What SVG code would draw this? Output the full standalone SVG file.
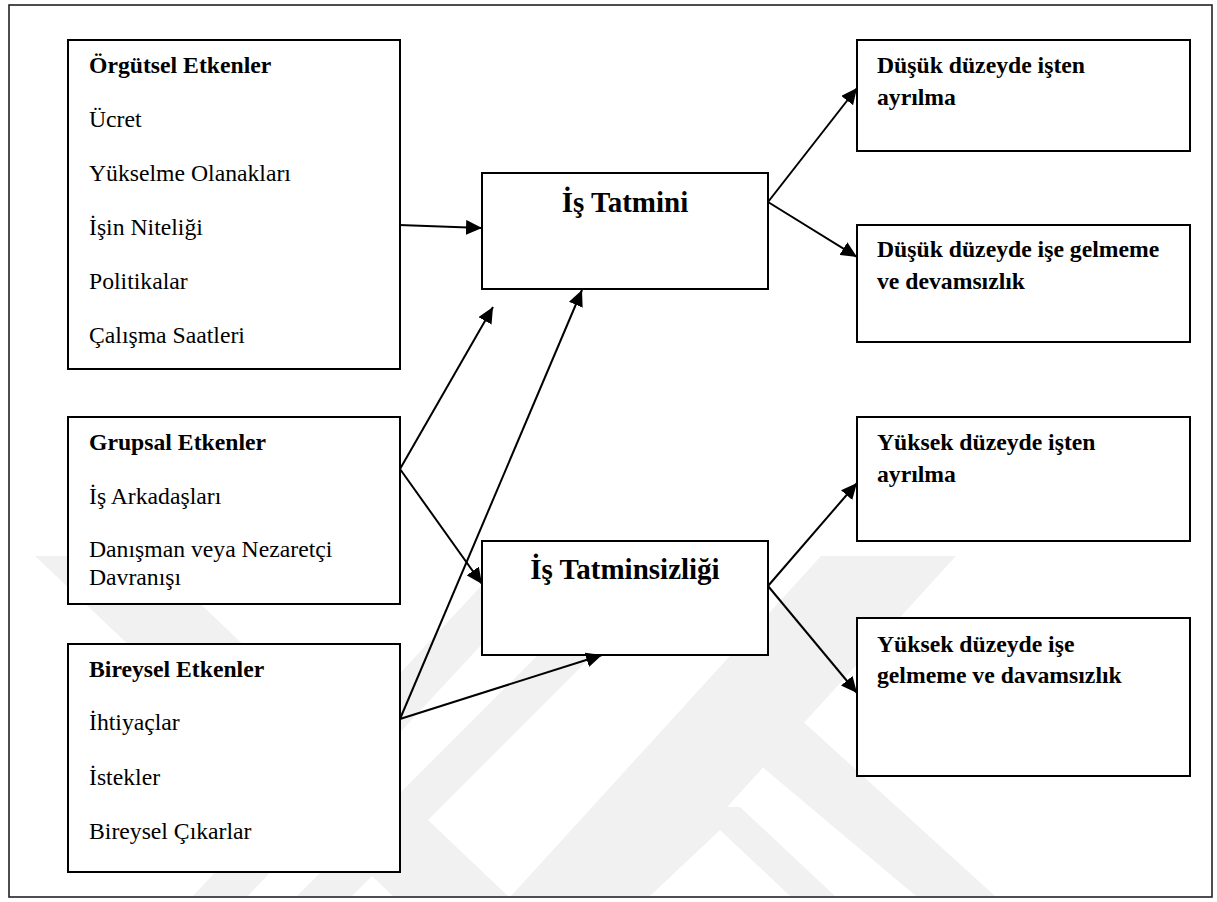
<svg xmlns="http://www.w3.org/2000/svg" width="1217" height="902" viewBox="0 0 1217 902">
  <defs>
    <style>
      .box { fill: #ffffff; stroke: #000000; stroke-width: 2; }
      .frame { fill: #ffffff; stroke: #222222; stroke-width: 1.6; }
      .t { font-family: "Liberation Serif", "Times New Roman", serif; font-size: 23.7px; fill: #000000; }
      .b { font-weight: bold; }
      .big { font-family: "Liberation Serif", "Times New Roman", serif; font-size: 29px; font-weight: bold; fill: #000000; text-anchor: middle; }
      .conn { stroke: #000000; stroke-width: 2; fill: none; marker-end: url(#ah); }
      .wm { fill: #f1f1f1; }
    </style>
    <marker id="ah" markerWidth="16" markerHeight="15" refX="16" refY="7.5" orient="auto" markerUnits="userSpaceOnUse">
      <path d="M0,0 L16,7.5 L0,15 z" fill="#000000"/>
    </marker>
    <clipPath id="wmclip">
      <rect x="10" y="556" width="1200" height="340"/>
    </clipPath>
  </defs>

  <rect class="frame" x="9" y="5" width="1203" height="892"/>

  <g id="watermark" clip-path="url(#wmclip)">
    <polygon class="wm" points="35,556 150,556 508,896 393,896"/>
    <polygon class="wm" points="509,556 564,556 248,896 193,896"/>
    <polygon class="wm" points="637,556 692,556 352,896 297,896"/>
    <polygon class="wm" points="821,556 956,556 646,896 511,896"/>
    <polygon class="wm" points="700,807 740,807 835,896 790,896 720,830 650,896 605,896"/>
    <polygon class="wm" points="798,717 995,896 916,896 730,740"/>
  </g>

  <g id="orgutsel">
    <rect class="box" x="68" y="40" width="332" height="329"/>
    <text class="t b" x="89" y="73">Örgütsel Etkenler</text>
    <text class="t" x="89" y="127">Ücret</text>
    <text class="t" x="89" y="181">Yükselme Olanakları</text>
    <text class="t" x="89" y="235">İşin Niteliği</text>
    <text class="t" x="89" y="289">Politikalar</text>
    <text class="t" x="89" y="343">Çalışma Saatleri</text>
  </g>

  <g id="grupsal">
    <rect class="box" x="68" y="417" width="332" height="187"/>
    <text class="t b" x="89" y="450">Grupsal Etkenler</text>
    <text class="t" x="89" y="504">İş Arkadaşları</text>
    <text class="t" x="89" y="557">Danışman veya Nezaretçi</text>
    <text class="t" x="89" y="585">Davranışı</text>
  </g>

  <g id="bireysel">
    <rect class="box" x="68" y="644" width="332" height="228"/>
    <text class="t b" x="89" y="677">Bireysel Etkenler</text>
    <text class="t" x="89" y="730">İhtiyaçlar</text>
    <text class="t" x="89" y="785">İstekler</text>
    <text class="t" x="89" y="839">Bireysel Çıkarlar</text>
  </g>

  <g id="is-tatmini">
    <rect class="box" x="482" y="173" width="286" height="116"/>
    <text class="big" x="625" y="212">İş Tatmini</text>
  </g>

  <g id="is-tatminsizligi">
    <rect class="box" x="482" y="541" width="286" height="114"/>
    <text class="big" x="625" y="579">İş Tatminsizliği</text>
  </g>

  <g id="dusuk-ayrilma">
    <rect class="box" x="857" y="40" width="333" height="111"/>
    <text class="t b" x="877" y="73">Düşük düzeyde işten</text>
    <text class="t b" x="877" y="105">ayrılma</text>
  </g>

  <g id="dusuk-gelmeme">
    <rect class="box" x="857" y="225" width="333" height="117"/>
    <text class="t b" x="877" y="257">Düşük düzeyde işe gelmeme</text>
    <text class="t b" x="877" y="289">ve devamsızlık</text>
  </g>

  <g id="yuksek-ayrilma">
    <rect class="box" x="857" y="417" width="333" height="124"/>
    <text class="t b" x="877" y="450">Yüksek düzeyde işten</text>
    <text class="t b" x="877" y="482">ayrılma</text>
  </g>

  <g id="yuksek-gelmeme">
    <rect class="box" x="857" y="618" width="333" height="158"/>
    <text class="t b" x="877" y="652">Yüksek düzeyde işe</text>
    <text class="t b" x="877" y="683">gelmeme ve davamsızlık</text>
  </g>

  <g id="connectors">
    <line class="conn" x1="399" y1="225" x2="482" y2="228"/>
    <line class="conn" x1="400" y1="469" x2="493" y2="307"/>
    <line class="conn" x1="400" y1="469" x2="482" y2="584"/>
    <line class="conn" x1="400" y1="719" x2="582" y2="290"/>
    <line class="conn" x1="400" y1="719" x2="602" y2="655"/>
    <line class="conn" x1="768" y1="202" x2="857" y2="88"/>
    <line class="conn" x1="768" y1="202" x2="857" y2="257"/>
    <line class="conn" x1="768" y1="586" x2="857" y2="483"/>
    <line class="conn" x1="768" y1="586" x2="857" y2="693"/>
  </g>
</svg>
